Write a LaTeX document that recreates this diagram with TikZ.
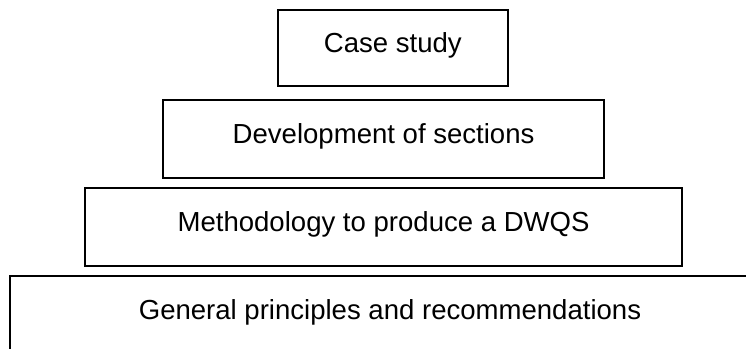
\documentclass[tikz,border=0pt]{standalone}
\usepackage{fontspec}
\setmainfont{Liberation Sans}
\usepackage{tikz}
\usetikzlibrary{positioning}

\tikzset{
    layer/.style={draw, line width=1.4pt, minimum height=1.94cm,
        text height=0.85em, text depth=0.25em,
        font=\fontsize{19.6}{23}\selectfont}
}

\begin{document}
\begin{tikzpicture}
    \useasboundingbox (0,0) rectangle (18.65,-8.725);
    \node[layer, minimum width=5.76cm, minimum height=1.9cm] (case) at (9.82,-1.2) {
        Case study
    };
    \node[layer, minimum width=11.01cm] (dev) at (9.59,-3.47) {
        Development of sections
    };
    \node[layer, minimum width=14.91cm] (method) at (9.59,-5.675) {
        Methodology to produce a DWQS
    };
    \node[layer, minimum width=19cm] (general) at (9.75,-7.875) {
        General principles and recommendations
    };
\end{tikzpicture}
\end{document}
